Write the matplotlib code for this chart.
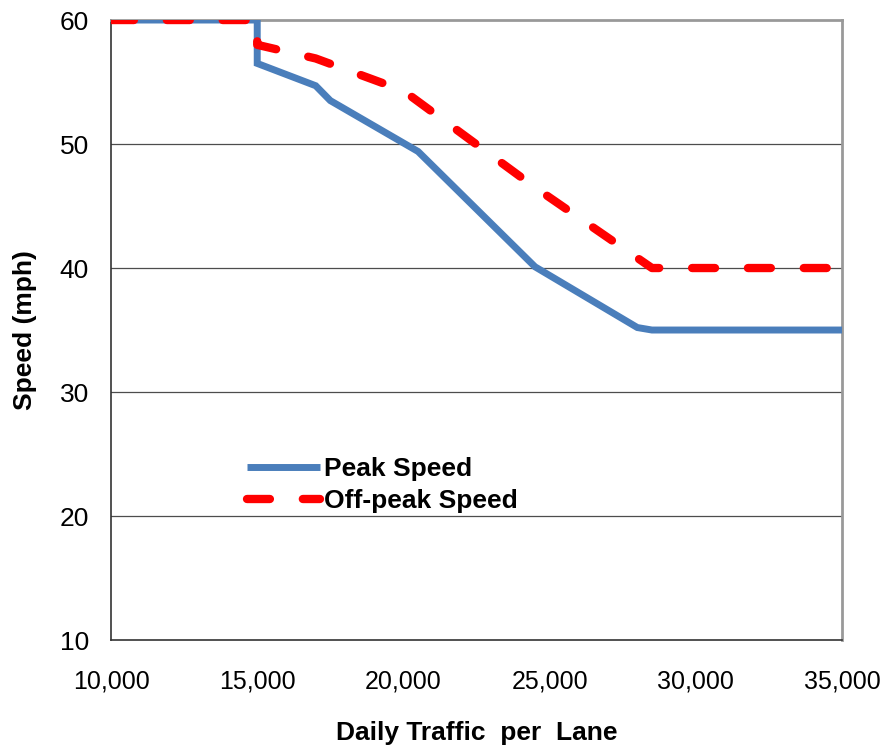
import matplotlib
matplotlib.use("Agg")
import matplotlib.pyplot as plt
from matplotlib.ticker import FuncFormatter

plt.rcParams['font.family'] = ['Liberation Sans', 'DejaVu Sans']

# Data
peak_x = [10000, 15000, 15000, 17000, 17500, 20500, 24500, 28000, 28500, 35000]
peak_y = [60, 60, 56.5, 54.7, 53.5, 49.4, 40.1, 35.2, 35, 35]
off_x = [10000, 15000, 15000, 17000, 20000, 24500, 28500, 35000]
off_y = [60, 60, 58, 56.9, 54.3, 46.5, 40, 40]
x_ticks = [10000, 15000, 20000, 25000, 30000, 35000]
y_ticks = [10, 20, 30, 40, 50, 60]

fig = plt.figure(figsize=(8.84, 7.47), dpi=100)
ax = fig.add_axes([0.1256, 0.1432, 0.8269, 0.8300])

ax.plot(peak_x, peak_y, color='#4A7EBB', lw=5.0, solid_capstyle='butt',
        solid_joinstyle='miter', label='Peak Speed', zorder=3)
ax.plot(off_x, off_y, color='#FF0000', lw=6.0, dash_capstyle='round',
        dashes=(2.75, 3.95), label='Off-peak Speed', zorder=4)

ax.set_xlim(10000, 35000)
ax.set_ylim(10, 60)
ax.set_xticks(x_ticks)
ax.set_yticks(y_ticks)
ax.xaxis.set_major_formatter(FuncFormatter(lambda v, p: f"{int(v):,}"))
ax.tick_params(length=0)
ax.tick_params(axis='x', pad=21, labelsize=18)
ax.tick_params(axis='y', pad=16, labelsize=19)

for y in [20, 30, 40, 50]:
    ax.axhline(y, color='#4d4d4d', lw=0.9, zorder=1)

ax.spines['left'].set_color('#333333')
ax.spines['left'].set_linewidth(1.2)
ax.spines['bottom'].set_color('#333333')
ax.spines['bottom'].set_linewidth(1.2)
ax.spines['top'].set_color('#999999')
ax.spines['top'].set_linewidth(2)
ax.spines['right'].set_color('#999999')
ax.spines['right'].set_linewidth(2)

ax.set_xlabel('Daily Traffic  per  Lane', fontsize=19, fontweight='bold', labelpad=20)
ax.set_ylabel('Speed (mph)', fontsize=19, fontweight='bold', labelpad=16)

leg = ax.legend(loc='lower left', bbox_to_anchor=(0.154, 0.167), frameon=False,
                fontsize=19, handlelength=2.75, handletextpad=0.15,
                labelspacing=0.3)
for t in leg.get_texts():
    t.set_fontweight('bold')

fig.savefig('out.png', dpi=100)
